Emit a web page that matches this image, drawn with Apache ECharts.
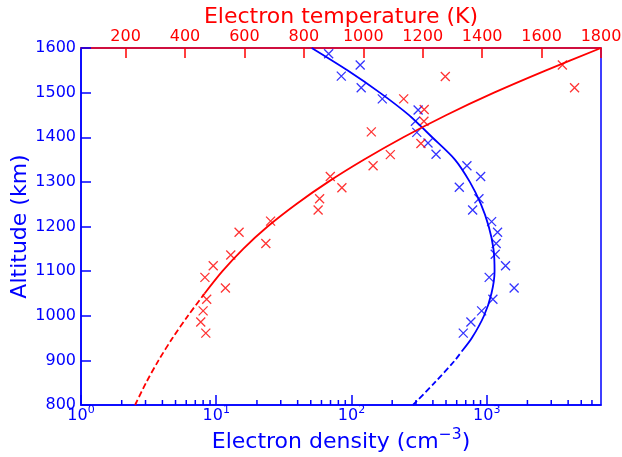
<!DOCTYPE html>
<html>
<head>
<meta charset="utf-8">
<script src="https://cdn.jsdelivr.net/npm/echarts@6/dist/echarts.min.js"></script>
<style>
  html, body { margin: 0; padding: 0; background: #ffffff; }
  #chart { width: 622px; height: 457px; }
</style>
</head>
<body>
<div id="chart"></div>
<script>
// Measured electron density profile: altitude (km) and density (cm^-3)
const densityAlt = [1587, 1562, 1537, 1511, 1486, 1461, 1436, 1411, 1387, 1362, 1336, 1312, 1288,
                    1262, 1237, 1211, 1187, 1162, 1138, 1112, 1086, 1062, 1037, 1011, 986, 961];
const densityVal = [67.8, 116, 84.1, 118, 169, 311, 297, 304, 368, 422, 714, 902, 627,
                    876, 787, 1087, 1203, 1175, 1156, 1378, 1043, 1595, 1111, 917, 764, 671];

// Measured electron temperature profile: altitude (km) and temperature (K)
const tempAlt = [1562, 1536, 1511, 1486, 1462, 1436, 1412, 1386, 1361, 1336, 1312, 1287, 1262,
                 1237, 1212, 1187, 1162, 1136, 1112, 1086, 1062, 1037, 1011, 986, 961];
const tempVal = [1670, 1276, 1711, 1136, 1205, 1204, 1027, 1194, 1091, 1033, 889, 928, 853,
                 848, 688, 582, 672, 554, 495, 467, 536, 473, 461, 453, 470];

// Fitted density profile (dashed below densityFitSolidFrom)
const densityFitAlt = [800, 850, 900, 920, 950, 1000, 1050, 1100, 1150, 1200, 1250, 1300, 1350,
                       1400, 1450, 1500, 1550, 1600];
const densityFitVal = [285, 412, 582, 653, 776, 955, 1084, 1143, 1122, 1035, 906, 750, 582,
                       395, 265, 162, 93.3, 50.8];
const densityFitSolidFrom = 920;

// Fitted temperature profile (dashed below tempFitSolidFrom)
const tempFitAlt = [800, 850, 900, 950, 1000, 1050, 1100, 1150, 1200, 1250, 1300, 1350, 1400,
                    1450, 1500, 1550, 1600];
const tempFitVal = [232, 269, 311, 358, 410, 466, 526, 596, 678, 774, 882, 1003, 1135,
                    1280, 1440, 1615, 1800];
const tempFitSolidFrom = 1050;

// Axis ticks
const altTicks = { min: 800, max: 1600, step: 100 };
const densityDecades = [1, 10, 100, 1000];
const densityMax = 7000;
const tempTicks = [200, 400, 600, 800, 1000, 1200, 1400, 1600, 1800];
const tempMin = 50, tempMax = 1800;

const BLUE = '#0000ff';
const RED = '#ff0000';
const FONT = 'DejaVu Sans';
const TICK_FONT = 16;
const TITLE_FONT = 22;

// Minor ticks of the logarithmic density axis (2..9 per decade)
const densityMinor = [];
densityDecades.forEach(d => {
  for (let m = 2; m <= 9; m++) {
    if (m * d < densityMax) densityMinor.push([m * d, altTicks.min]);
  }
});

const pairs = (xs, ys) => xs.map((x, i) => [x, ys[i]]);
const splitFit = (alts, vals, from) => {
  const lower = [], upper = [];
  alts.forEach((a, i) => {
    if (a <= from) lower.push([vals[i], a]);
    if (a >= from) upper.push([vals[i], a]);
  });
  return { lower, upper };
};
const dFit = splitFit(densityFitAlt, densityFitVal, densityFitSolidFrom);
const tFit = splitFit(tempFitAlt, tempFitVal, tempFitSolidFrom);

const CROSS = 'path://M0,0L10,10M10,0L0,10';

const chart = echarts.init(document.getElementById('chart'), null, { renderer: 'canvas' });

chart.setOption({
  animation: false,
  backgroundColor: '#ffffff',
  textStyle: { fontFamily: FONT },
  grid: {
    left: 81, right: 21, top: 48, bottom: 52,
    outerBoundsMode: 'none', containLabel: false,
    show: true, borderColor: BLUE, borderWidth: 1.5, backgroundColor: 'transparent'
  },
  xAxis: [
    {
      type: 'log', logBase: 10, min: 1, max: densityMax, position: 'bottom',
      name: '{a|Electron density (cm}{s|\u22123}{a|)}',
      nameLocation: 'middle', nameGap: 21.5, nameMoveOverlap: false,
      nameTextStyle: {
        rich: {
          a: { fontSize: TITLE_FONT, color: BLUE, fontFamily: FONT, lineHeight: 27, verticalAlign: 'bottom' },
          s: { fontSize: 15.5, color: BLUE, fontFamily: FONT, lineHeight: 27, verticalAlign: 'top' }
        }
      },
      axisLine: { show: true, lineStyle: { color: BLUE, width: 1.5 } },
      axisTick: { show: true, inside: true, length: 10, customValues: densityDecades,
                  lineStyle: { color: BLUE, width: 1.5 } },
      axisLabel: {
        show: true, margin: 0, customValues: densityDecades,
        formatter: v => '{b|10}{s|' + Math.round(Math.log10(v)) + '}',
        rich: {
          b: { fontSize: TICK_FONT, color: BLUE, fontFamily: FONT, lineHeight: 19, verticalAlign: 'bottom' },
          s: { fontSize: 11, color: BLUE, fontFamily: FONT, lineHeight: 19, verticalAlign: 'top' }
        }
      },
      splitLine: { show: false }
    },
    {
      type: 'value', min: tempMin, max: tempMax, position: 'top',
      name: 'Electron temperature (K)',
      nameLocation: 'middle', nameGap: 20, nameMoveOverlap: false,
      nameTextStyle: { fontSize: TITLE_FONT, color: RED, fontFamily: FONT },
      axisLine: { show: true, lineStyle: { color: RED, width: 1.5 } },
      axisTick: { show: true, inside: true, length: 10, customValues: tempTicks,
                  lineStyle: { color: RED, width: 1.5 } },
      axisLabel: { show: true, margin: 3, customValues: tempTicks, color: RED, fontSize: TICK_FONT,
                   fontFamily: FONT, formatter: v => String(v) },
      splitLine: { show: false }
    }
  ],
  yAxis: [
    {
      type: 'value', min: altTicks.min, max: altTicks.max, interval: altTicks.step,
      name: 'Altitude (km)', nameLocation: 'middle', nameGap: 50, nameRotate: 90,
      nameMoveOverlap: false,
      nameTextStyle: { fontSize: TITLE_FONT, color: BLUE, fontFamily: FONT },
      axisLine: { show: true, lineStyle: { color: BLUE, width: 1.5 } },
      axisTick: { show: true, inside: true, length: 10, lineStyle: { color: BLUE, width: 1.5 } },
      axisLabel: { show: true, margin: 5, color: BLUE, fontSize: TICK_FONT, fontFamily: FONT,
                   formatter: v => String(v) },
      splitLine: { show: false }
    }
  ],
  series: [
    {
      type: 'custom', name: 'densityMinorTicks', xAxisIndex: 0, yAxisIndex: 0,
      data: densityMinor, silent: true, clip: false,
      renderItem: (params, api) => {
        const p = api.coord([api.value(0), api.value(1)]);
        return {
          type: 'line',
          shape: { x1: p[0], y1: p[1], x2: p[0], y2: p[1] - 5 },
          style: { stroke: BLUE, lineWidth: 1.5 }
        };
      }
    },
    {
      type: 'line', xAxisIndex: 0, yAxisIndex: 0, data: dFit.upper,
      symbol: 'none', smooth: 0.3, lineStyle: { color: BLUE, width: 1.8 }
    },
    {
      type: 'line', xAxisIndex: 0, yAxisIndex: 0, data: dFit.lower,
      symbol: 'none', smooth: 0.3, lineStyle: { color: BLUE, width: 1.8, type: [6, 3] }
    },
    {
      type: 'line', xAxisIndex: 1, yAxisIndex: 0, data: tFit.upper,
      symbol: 'none', smooth: 0.3, lineStyle: { color: RED, width: 1.8 }
    },
    {
      type: 'line', xAxisIndex: 1, yAxisIndex: 0, data: tFit.lower,
      symbol: 'none', smooth: 0.3, lineStyle: { color: RED, width: 1.8, type: [6, 3] }
    },
    {
      type: 'scatter', xAxisIndex: 0, yAxisIndex: 0, data: pairs(densityVal, densityAlt),
      symbol: CROSS, symbolSize: 9,
      itemStyle: { color: 'rgba(0,0,0,0)', borderColor: BLUE, borderWidth: 1.3 }
    },
    {
      type: 'scatter', xAxisIndex: 1, yAxisIndex: 0, data: pairs(tempVal, tempAlt),
      symbol: CROSS, symbolSize: 9,
      itemStyle: { color: 'rgba(0,0,0,0)', borderColor: RED, borderWidth: 1.3 }
    }
  ]
});
</script>
</body>
</html>
